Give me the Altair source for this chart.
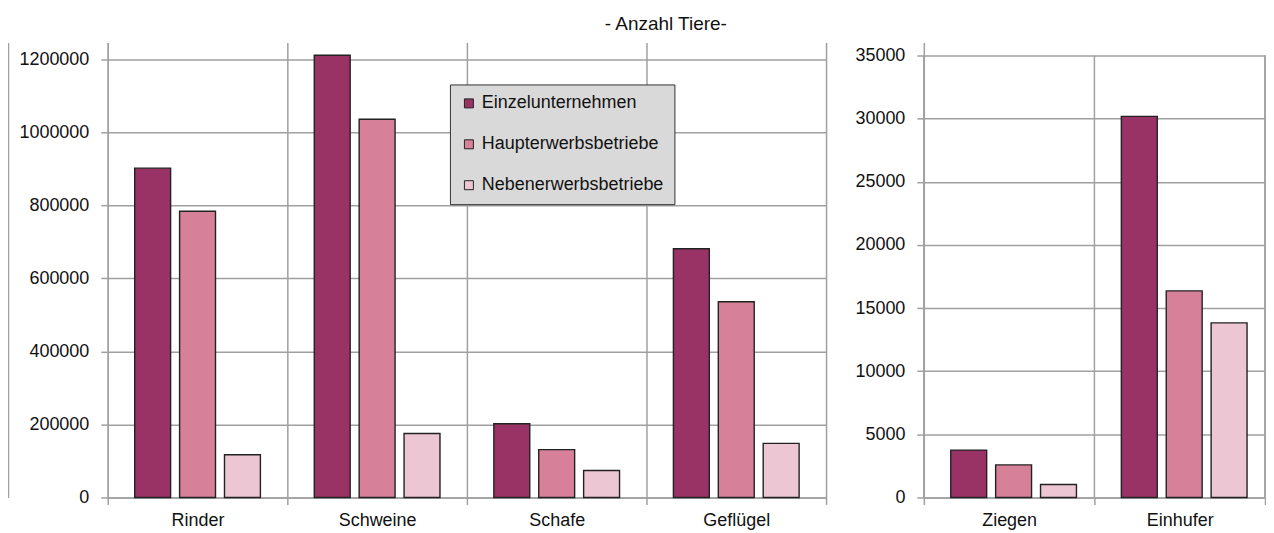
import altair as alt
import pandas as pd

# ---- data ----
series = ["Einzelunternehmen", "Haupterwerbsbetriebe", "Nebenerwerbsbetriebe"]
colors = ["#993366", "#D6809A", "#EDC6D3"]

cats_left = ["Rinder", "Schweine", "Schafe", "Geflügel"]
einzel_left = [902000, 1211000, 202000, 681000]
haupt_left = [784000, 1036000, 131000, 536000]
neben_left = [117000, 175000, 74000, 148000]

cats_right = ["Ziegen", "Einhufer"]
einzel_right = [3750, 30180]
haupt_right = [2580, 16360]
neben_right = [1030, 13830]

ticks_left = [0, 200000, 400000, 600000, 800000, 1000000, 1200000]
ticks_right = [0, 5000, 10000, 15000, 20000, 25000, 30000, 35000]

title_text = "- Anzahl Tiere-"

GRID = "#A0A0A0"
FONT = "Liberation Sans"
TEXT = "#111111"


def frame(cats, e, h, n):
    rows = []
    for i, c in enumerate(cats):
        for s, vals in zip(series, (e, h, n)):
            rows.append({"Kategorie": c, "Betrieb": s, "Anzahl": vals[i]})
    return pd.DataFrame(rows)


def x_axis(xgrid):
    return alt.Axis(labelAngle=0, labelAlign="center", tickBand="extent",
                    bandPosition=0.5, grid=xgrid, gridColor=GRID, gridWidth=1.5,
                    tickColor=GRID, tickWidth=1.5, tickSize=7,
                    domainColor=GRID, domainWidth=1.5, labelPadding=7)


def bars(df, cats, ymax, ticks, legend, xgrid):
    return alt.Chart(df).mark_bar(stroke="#222222", strokeWidth=1.4).encode(
        x=alt.X("Kategorie:N", sort=cats, title=None,
                scale=alt.Scale(paddingInner=0, paddingOuter=0),
                axis=x_axis(xgrid)),
        xOffset=alt.XOffset("Betrieb:N", sort=series,
                            scale=alt.Scale(paddingInner=0.2, paddingOuter=0.6)),
        y=alt.Y(
            "Anzahl:Q", title=None,
            scale=alt.Scale(domain=[0, ymax], nice=False, zero=True),
            axis=alt.Axis(values=ticks, format="d", grid=True, gridColor=GRID,
                          gridWidth=1.5, tickColor=GRID, tickWidth=1.5,
                          tickSize=7, domainColor=GRID, domainWidth=1.5,
                          labelPadding=12),
        ),
        color=alt.Color("Betrieb:N", sort=series,
                        scale=alt.Scale(domain=series, range=colors),
                        legend=legend),
    )


df_left = frame(cats_left, einzel_left, haupt_left, neben_left)
df_right = frame(cats_right, einzel_right, haupt_right, neben_right)

legend_left = alt.Legend(
    title=None, orient="none", legendX=343, legendY=42,
    fillColor="#D9D9D9", strokeColor="#333333", padding=10, rowPadding=23,
    symbolType="square", symbolSize=81, symbolStrokeColor="#222222",
    symbolStrokeWidth=1, labelFont=FONT, labelFontSize=18, labelColor=TEXT,
    labelOffset=4, labelLimit=300,
)

LEFT_MAX = 1246000
RIGHT_MAX = 36030

left_bars = bars(df_left, cats_left, LEFT_MAX, ticks_left, legend_left, True)
# outer frame line on the far left, drawn as an offset axis domain
left_frame = alt.Chart(df_left).mark_rule(opacity=0).encode(
    y=alt.Y("Anzahl:Q", title=None,
            scale=alt.Scale(domain=[0, LEFT_MAX], nice=False),
            axis=alt.Axis(orient="left", labels=False, ticks=False, grid=False,
                          domain=True, domainColor=GRID, domainWidth=1.5,
                          offset=100)),
)
left = alt.layer(left_bars, left_frame).resolve_axis(y="independent").properties(
    width=720, height=456
)

# right panel: vertical grid lines only up to the top tick
df_right_cats = pd.DataFrame({"Kategorie": cats_right})
right_bars = bars(df_right, cats_right, RIGHT_MAX, ticks_right, None, False)
right_vgrid = alt.Chart(df_right_cats).mark_rule(color=GRID, strokeWidth=1.5).encode(
    x=alt.X("Kategorie:N", sort=cats_right, bandPosition=0, title=None,
            axis=x_axis(False)),
    y=alt.datum(0),
    y2=alt.datum(ticks_right[-1]),
)
right_edge = alt.Chart(df_right_cats).mark_rule(color=GRID, strokeWidth=1.5).encode(
    x=alt.value("width"),
    y=alt.datum(0),
    y2=alt.datum(ticks_right[-1]),
)
right = alt.layer(right_bars, right_vgrid, right_edge).properties(
    width=342, height=456
)

chart = alt.hconcat(left, right, spacing=27).resolve_scale(
    color="independent"
).properties(
    title=alt.TitleParams(title_text, fontSize=19, font=FONT, fontWeight="normal",
                          color=TEXT, anchor="middle", offset=9, dx=29),
    padding={"left": 0, "right": 0, "top": 6, "bottom": 0},
).configure_view(stroke=None).configure_axis(
    labelFont=FONT, labelFontSize=18, labelColor=TEXT
)

chart.save("out.html", embed_options={"renderer": "svg", "actions": False})
